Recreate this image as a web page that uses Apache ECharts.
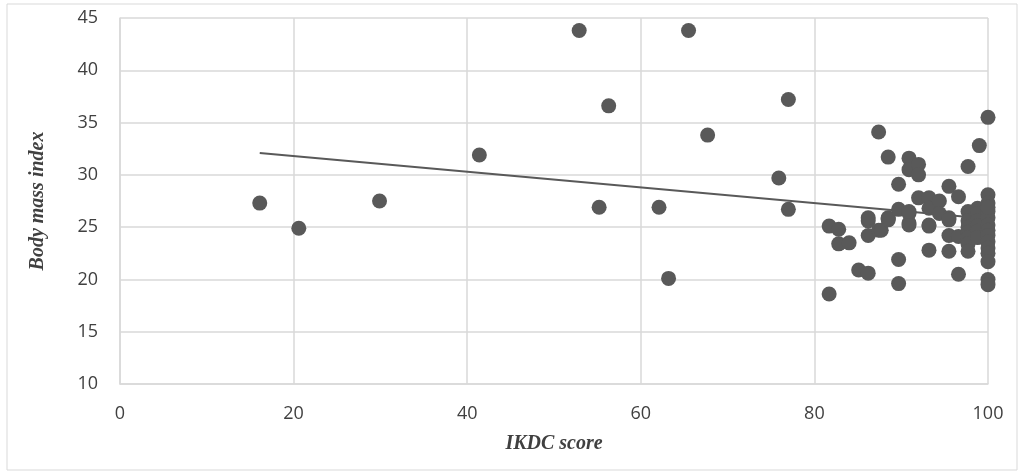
<!DOCTYPE html>
<html>
<head>
<meta charset="utf-8">
<script src="https://cdn.jsdelivr.net/npm/echarts@6/dist/echarts.min.js"></script>
<style>
  html, body { margin: 0; padding: 0; background: #fff; }
  #main { width: 1024px; height: 474px; }
</style>
</head>
<body>
<div id="main"></div>
<script>
// IKDC score vs body mass index
var ikdc = [
  16.1, 20.6, 29.9, 41.4, 52.9, 55.2, 56.3, 62.1, 63.2, 65.5, 67.7, 75.9, 77.0, 77.0,
  81.7, 81.7, 82.8, 82.8, 84.0, 85.1, 86.2, 86.2, 86.2, 86.2, 87.4, 87.4, 87.7,
  88.5, 88.5, 88.5, 88.5, 89.7, 89.7, 89.7, 89.7, 90.9, 90.9, 90.9, 90.9, 90.9, 90.9,
  92.0, 92.0, 92.0, 93.2, 93.2, 93.2, 93.2, 93.2, 94.4, 94.4, 95.5, 95.5, 95.5, 95.5, 95.5,
  96.6, 96.6, 96.6, 97.7, 97.7, 97.7, 97.7, 97.7, 97.7, 97.7, 97.7,
  98.8, 98.8, 98.8, 98.8, 98.8, 98.8, 99.0,
  100, 100, 100, 100, 100, 100, 100, 100, 100, 100, 100, 100, 100, 100, 100
];
var bmi = [
  27.3, 24.9, 27.5, 31.9, 43.8, 26.9, 36.6, 26.9, 20.1, 43.8, 33.8, 29.7, 37.2, 26.7,
  25.1, 18.6, 24.8, 23.4, 23.5, 20.9, 25.6, 24.2, 20.6, 25.9, 34.1, 24.7, 24.7,
  31.7, 25.8, 25.7, 25.9, 29.1, 26.7, 21.9, 19.6, 31.6, 30.5, 26.3, 25.4, 25.2, 26.5,
  31.0, 30.0, 27.8, 27.8, 26.8, 25.2, 25.1, 22.8, 27.5, 26.3, 28.9, 25.9, 25.7, 24.2, 22.7,
  27.9, 20.5, 24.1, 30.8, 26.5, 25.6, 25.0, 24.5, 24.0, 23.4, 22.7,
  26.8, 26.3, 25.6, 25.1, 24.6, 24.0, 32.8,
  35.5, 28.1, 27.3, 26.5, 25.9, 25.2, 24.7, 24.2, 23.6, 23.0, 22.5, 21.7, 20.0, 19.5, 26.9
];
// trend line end points
var trendX = [16.1, 100];
var trendY = [32.1, 25.8];

var points = ikdc.map(function (x, i) { return [x, bmi[i]]; });
var trend = trendX.map(function (x, i) { return [x, trendY[i]]; });

var myChart = echarts.init(document.getElementById('main'));
myChart.setOption({
  animation: false,
  graphic: [{
    type: 'rect',
    shape: { x: 7, y: 4, width: 1010, height: 466 },
    style: { fill: 'none', stroke: '#d9d9d9', lineWidth: 1 },
    silent: true
  }],
  grid: { left: 120, right: 36, top: 18, bottom: 90 },
  xAxis: {
    type: 'value',
    min: 0,
    max: 100,
    interval: 20,
    name: 'IKDC score',
    nameLocation: 'middle',
    nameGap: 50,
    nameTextStyle: {
      fontFamily: 'Liberation Serif',
      fontStyle: 'italic',
      fontWeight: 'bold',
      fontSize: 20,
      color: '#404040'
    },
    axisLine: { show: true, lineStyle: { color: '#d9d9d9', width: 1.5 } },
    axisTick: { show: false },
    axisLabel: { margin: 21, fontFamily: 'Open Sans', fontSize: 18, color: '#404040' },
    splitLine: { show: true, lineStyle: { color: '#d9d9d9', width: 1.5 } }
  },
  yAxis: {
    type: 'value',
    min: 10,
    max: 45,
    interval: 5,
    name: 'Body mass index',
    nameLocation: 'middle',
    nameGap: 72,
    nameTextStyle: {
      fontFamily: 'Liberation Serif',
      fontStyle: 'italic',
      fontWeight: 'bold',
      fontSize: 20,
      color: '#404040'
    },
    axisLine: { show: true, lineStyle: { color: '#d9d9d9', width: 1.5 } },
    axisTick: { show: false },
    axisLabel: { margin: 22, fontFamily: 'Open Sans', fontSize: 18, color: '#404040' },
    splitLine: { show: true, lineStyle: { color: '#d9d9d9', width: 1.5 } }
  },
  series: [
    {
      type: 'line',
      data: trend,
      symbol: 'none',
      lineStyle: { color: '#595959', width: 2 },
      z: 2
    },
    {
      type: 'scatter',
      data: points,
      symbolSize: 15,
      itemStyle: { color: '#595959', opacity: 1 },
      z: 3
    }
  ]
});
</script>
</body>
</html>
